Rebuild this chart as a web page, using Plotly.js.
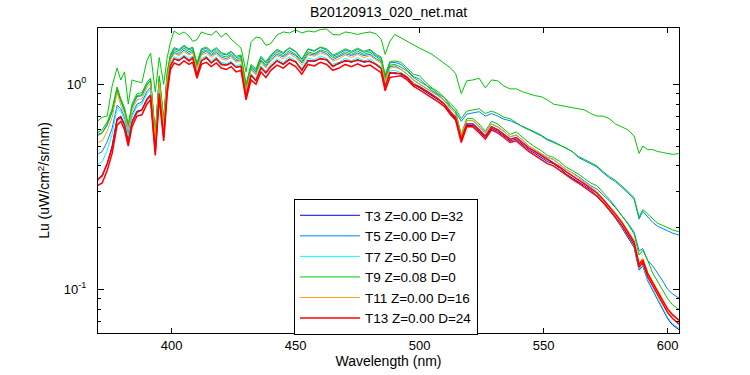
<!DOCTYPE html>
<html>
<head>
<meta charset="utf-8">
<script src="https://cdn.plot.ly/plotly-3.0.1.min.js"></script>
<style>html,body{margin:0;padding:0;background:#fff}#chart{width:750px;height:375px}</style>
</head>
<body>
<div id="chart"></div>
<script>
// Wavelength grid (nm)
const wavelength = [370,372,374,376,378,379.5,381,382.5,384,386,388,390,391.5,393.4,395,396.8,398.2,
399.5,401,403,405,407,408.5,410.2,412,414,416,418,420,422,424,426,428,430,432,434,436,438,440,442.5,445,447.5,450,452.5,455,457.5,460,462.5,465,467.5,470,472.5,475,477.5,480,482.5,484.5,486.1,488,490,
492.5,495,497.5,500,502.5,505,507.5,510,512.5,514.5,516.8,519,521.5,524,526.5,529,531.5,534,536.5,539,541.5,544,546.5,549,551.5,554,556.5,559,561.5,564,566.5,569,571.5,574,576.5,579,581.5,584,586.5,588.5,590,592,594,596,598,600,602,605];

// T3 Z=0.00 D=32
const t3 = [0.345,0.355,0.41,0.5,0.68,0.70,0.64,0.53,0.66,0.74,0.75,0.85,0.89,0.47,0.91,0.56,0.95,
1.24,1.33,1.3,1.37,1.31,1.34,1.12,1.31,1.34,1.28,1.33,1.26,1.24,1.28,1.21,1.23,0.88,1.1,1.05,1.21,1.13,1.23,1.3,1.26,1.33,1.28,1.18,1.31,1.29,1.34,1.31,1.23,1.26,1.31,1.28,1.32,1.28,1.3,1.24,1.2,0.98,1.13,1.14,
1.12,1.07,1.0,0.96,0.92,0.88,0.84,0.8,0.72,0.68,0.53,0.63,0.63,0.59,0.55,0.61,0.59,0.56,0.53,0.54,0.51,0.48,0.46,0.44,0.42,0.41,0.39,0.365,0.35,0.335,0.32,0.305,0.285,0.264,0.243,0.222,0.2,0.18,0.16,0.124,0.13,0.11,0.099,0.089,0.08,0.072,0.067,0.063];

// T5 Z=0.00 D=7 (two casts)
const t5a = [0.455,0.47,0.525,0.61,0.79,0.76,0.69,0.575,0.71,0.8,0.82,0.92,0.97,0.52,0.99,0.61,1.03,
1.33,1.43,1.4,1.47,1.41,1.45,1.21,1.41,1.45,1.38,1.43,1.36,1.33,1.38,1.3,1.32,0.95,1.19,1.13,1.3,1.22,1.32,1.4,1.36,1.43,1.38,1.27,1.41,1.39,1.45,1.41,1.32,1.36,1.41,1.38,1.42,1.38,1.4,1.33,1.29,1.05,1.22,1.23,
1.18,1.12,1.05,1.0,0.96,0.92,0.88,0.835,0.76,0.72,0.56,0.665,0.665,0.62,0.58,0.64,0.62,0.59,0.555,0.565,0.535,0.5,0.48,0.46,0.44,0.43,0.405,0.385,0.37,0.355,0.337,0.32,0.308,0.289,0.27,0.25,0.23,0.21,0.19,0.154,0.158,0.138,0.13,0.12,0.11,0.1,0.095,0.09];
const t5b = [0.56,0.58,0.63,0.73,0.93,0.82,0.74,0.62,0.77,0.87,0.88,0.99,1.04,0.56,1.07,0.66,1.12,
1.38,1.49,1.46,1.53,1.47,1.5,1.25,1.47,1.5,1.43,1.49,1.41,1.39,1.43,1.35,1.37,0.99,1.23,1.17,1.35,1.27,1.37,1.46,1.41,1.5,1.44,1.32,1.48,1.45,1.51,1.47,1.37,1.41,1.47,1.43,1.48,1.43,1.46,1.38,1.34,1.09,1.27,1.28,
1.25,1.17,1.09,1.06,0.99,0.93,0.89,0.83,0.775,0.735,0.66,0.715,0.725,0.735,0.70,0.72,0.70,0.675,0.665,0.645,0.62,0.605,0.585,0.565,0.54,0.525,0.505,0.49,0.47,0.44,0.425,0.41,0.395,0.37,0.35,0.335,0.315,0.295,0.275,0.22,0.24,0.225,0.212,0.203,0.197,0.193,0.188,0.183];

// T7 Z=0.50 D=0
const t7 = [0.405,0.42,0.475,0.57,0.77,0.74,0.67,0.56,0.69,0.78,0.8,0.9,0.94,0.5,0.96,0.59,1.0,
1.26,1.36,1.33,1.39,1.34,1.37,1.14,1.34,1.37,1.3,1.36,1.28,1.26,1.3,1.23,1.25,0.9,1.12,1.07,1.23,1.16,1.25,1.33,1.28,1.36,1.3,1.2,1.34,1.32,1.37,1.34,1.25,1.28,1.34,1.3,1.35,1.3,1.33,1.26,1.22,1.0,1.16,1.17,
1.14,1.09,1.02,0.98,0.94,0.9,0.85,0.81,0.74,0.7,0.54,0.645,0.645,0.6,0.56,0.625,0.6,0.57,0.54,0.55,0.52,0.49,0.47,0.445,0.425,0.415,0.395,0.375,0.36,0.34,0.325,0.31,0.29,0.268,0.246,0.224,0.203,0.182,0.162,0.125,0.131,0.111,0.1,0.09,0.081,0.073,0.068,0.064];

// T9 Z=0.08 D=0 (three casts)
const t9a = [0.66,0.69,0.7,0.98,1.2,1.05,1.15,0.8,1.05,1.03,1.02,1.3,1.42,0.92,1.35,1.0,1.35,
1.6,1.82,1.75,1.8,1.72,1.62,1.65,1.8,1.76,1.74,1.82,1.7,1.78,1.66,1.58,1.5,1.15,1.6,1.7,1.68,1.55,1.58,1.74,1.8,1.78,1.84,1.78,1.82,1.8,1.85,1.86,1.75,1.74,1.8,1.78,1.75,1.78,1.8,1.76,1.66,1.4,1.62,1.75,
1.68,1.62,1.55,1.5,1.45,1.4,1.33,1.26,1.2,1.13,0.9,1.04,1.05,1.07,0.96,1.05,1.04,0.98,0.95,0.95,0.92,0.9,0.88,0.87,0.84,0.8,0.79,0.78,0.77,0.76,0.75,0.72,0.7,0.7,0.68,0.64,0.62,0.6,0.56,0.46,0.5,0.48,0.48,0.47,0.465,0.46,0.455,0.46];
const t9b = [0.58,0.6,0.655,0.76,0.97,0.85,0.77,0.64,0.8,0.9,0.91,1.02,1.07,0.58,1.1,0.68,1.15,
1.4,1.51,1.48,1.55,1.49,1.52,1.27,1.49,1.52,1.45,1.51,1.43,1.4,1.45,1.37,1.39,1.0,1.25,1.19,1.37,1.29,1.39,1.48,1.43,1.51,1.45,1.33,1.49,1.46,1.52,1.49,1.39,1.43,1.49,1.45,1.5,1.45,1.48,1.4,1.36,1.11,1.29,1.3,
1.28,1.2,1.12,1.1,1.02,0.96,0.92,0.86,0.8,0.76,0.68,0.74,0.75,0.76,0.72,0.74,0.72,0.69,0.68,0.65,0.62,0.6,0.58,0.56,0.535,0.52,0.505,0.49,0.47,0.445,0.43,0.415,0.4,0.375,0.355,0.34,0.32,0.3,0.28,0.225,0.245,0.232,0.22,0.21,0.205,0.2,0.195,0.19];
const t9c = [0.57,0.58,0.64,0.74,0.95,0.83,0.75,0.63,0.78,0.88,0.89,1.0,1.05,0.56,1.08,0.66,1.12,
1.36,1.46,1.43,1.5,1.44,1.47,1.23,1.44,1.47,1.4,1.46,1.38,1.36,1.4,1.32,1.35,0.97,1.21,1.15,1.32,1.24,1.35,1.43,1.38,1.46,1.4,1.29,1.44,1.41,1.47,1.44,1.35,1.38,1.44,1.4,1.45,1.4,1.43,1.36,1.31,1.07,1.24,1.25,
1.21,1.16,1.08,1.03,0.99,0.95,0.9,0.86,0.78,0.74,0.57,0.68,0.68,0.64,0.59,0.66,0.64,0.605,0.57,0.585,0.55,0.52,0.495,0.475,0.45,0.44,0.42,0.395,0.38,0.365,0.347,0.33,0.32,0.297,0.275,0.252,0.23,0.208,0.186,0.147,0.155,0.138,0.12,0.109,0.099,0.09,0.084,0.079];

// T11 Z=0.00 D=16
const t11 = [0.52,0.53,0.59,0.69,0.91,0.79,0.72,0.6,0.74,0.84,0.85,0.96,1.01,0.54,1.03,0.64,1.08,
1.31,1.41,1.38,1.44,1.39,1.42,1.19,1.39,1.42,1.35,1.41,1.33,1.31,1.35,1.28,1.3,0.93,1.17,1.11,1.28,1.2,1.3,1.38,1.33,1.41,1.35,1.24,1.39,1.37,1.42,1.39,1.3,1.33,1.39,1.35,1.4,1.35,1.38,1.31,1.27,1.03,1.2,1.21,
1.18,1.12,1.05,1.0,0.96,0.92,0.88,0.835,0.76,0.72,0.56,0.665,0.665,0.62,0.58,0.64,0.62,0.59,0.555,0.565,0.535,0.5,0.48,0.46,0.44,0.43,0.405,0.385,0.37,0.35,0.33,0.315,0.3,0.278,0.257,0.236,0.215,0.194,0.173,0.134,0.142,0.121,0.109,0.099,0.089,0.081,0.076,0.07];

// T13 Z=0.00 D=24 (two casts)
const t13b = [0.34,0.36,0.41,0.49,0.67,0.69,0.63,0.52,0.65,0.73,0.75,0.84,0.88,0.47,0.9,0.55,0.94,
1.23,1.33,1.31,1.36,1.3,1.35,1.11,1.3,1.35,1.27,1.33,1.25,1.24,1.27,1.21,1.22,0.87,1.11,1.04,1.2,1.14,1.22,1.3,1.25,1.32,1.29,1.17,1.3,1.3,1.33,1.32,1.22,1.27,1.3,1.29,1.31,1.29,1.29,1.25,1.19,0.97,1.14,1.13,
1.13,1.08,1.0,0.97,0.93,0.89,0.85,0.8,0.73,0.69,0.54,0.64,0.64,0.6,0.56,0.62,0.6,0.57,0.54,0.55,0.52,0.49,0.47,0.45,0.43,0.415,0.395,0.375,0.357,0.342,0.327,0.311,0.295,0.274,0.253,0.232,0.212,0.191,0.17,0.132,0.139,0.119,0.107,0.097,0.088,0.08,0.075,0.07];
const t13 = [0.32,0.33,0.38,0.46,0.63,0.66,0.6,0.5,0.62,0.7,0.71,0.8,0.84,0.45,0.86,0.53,0.9,
1.18,1.27,1.24,1.3,1.25,1.28,1.07,1.25,1.28,1.22,1.27,1.2,1.18,1.22,1.15,1.17,0.84,1.05,1.0,1.15,1.08,1.17,1.24,1.2,1.27,1.22,1.12,1.25,1.23,1.28,1.25,1.17,1.2,1.25,1.22,1.26,1.22,1.24,1.18,1.14,0.93,1.08,1.09,
1.1,1.05,0.98,0.94,0.9,0.86,0.82,0.78,0.71,0.67,0.52,0.62,0.62,0.58,0.54,0.6,0.58,0.55,0.52,0.53,0.5,0.47,0.45,0.43,0.41,0.4,0.38,0.36,0.345,0.33,0.315,0.3,0.285,0.265,0.245,0.225,0.205,0.185,0.165,0.128,0.135,0.115,0.104,0.094,0.085,0.077,0.072,0.067];

const legendLabels = ['T3 Z=0.00 D=32','T5 Z=0.00 D=7','T7 Z=0.50 D=0','T9 Z=0.08 D=0','T11 Z=0.00 D=16','T13 Z=0.00 D=24'];
const xTickVals = [400,450,500,550,600];
const yTickVals = [0.1,1];
const yTickText = ['10<sup>-1</sup>','10<sup>0</sup>'];
const yMinorVals = [0.07,0.08,0.09,0.2,0.3,0.4,0.5,0.6,0.7,0.8,0.9];

const colors = ['#0000ff','#0080ff','#00ffff','#00c800','#ff9f1a','#ff0000'];

// [series values, legend index, show in legend]
const lineSets = [
  [t3,0,true],
  [t5a,1,true],[t5b,1,false],
  [t7,2,true],
  [t9a,3,true],[t9b,3,false],[t9c,3,false],
  [t11,4,true],
  [t13,5,true],[t13b,5,false]
];

const traces = lineSets.map(([vals,idx,show]) => ({
  type:'scatter', mode:'lines', x:wavelength, y:vals,
  name:legendLabels[idx], legendgroup:'g'+idx, showlegend:show,
  line:{color:colors[idx], width:idx===5?1.5:1},
  hoverinfo:'skip'
}));

const font = 'Liberation Sans, Arial, Helvetica, sans-serif';
const layout = {
  width:750, height:375,
  margin:{l:98, r:71, t:28, b:42, pad:0},
  paper_bgcolor:'#ffffff', plot_bgcolor:'#ffffff',
  font:{family:font, size:13, color:'#000'},
  title:{text:'B20120913_020_net.mat', x:0.5, xref:'paper', xanchor:'center', y:0.968, yref:'container', yanchor:'middle', font:{family:font, size:14, color:'#000'}},
  xaxis:{
    range:[370.3,604.6], tickvals:xTickVals, ticks:'inside', ticklen:5, tickwidth:1, tickcolor:'#000',
    showline:true, linecolor:'#000', linewidth:1, mirror:'ticks', showgrid:false, zeroline:false,
    tickfont:{family:font, size:13, color:'#000'},
    title:{text:'Wavelength (nm)', font:{family:font, size:14, color:'#000'}, standoff:4}
  },
  yaxis:{
    type:'log', range:[-1.2132,0.2746], tickvals:yTickVals, ticktext:yTickText,
    ticks:'inside', ticklen:6, tickwidth:1, tickcolor:'#000',
    minor:{tickvals:yMinorVals, ticks:'inside', ticklen:3, tickcolor:'#000', showgrid:false},
    showline:true, linecolor:'#000', linewidth:1, mirror:'ticks', showgrid:false, zeroline:false,
    tickfont:{family:font, size:13, color:'#000'}, ticklabelstandoff:8,
    title:{text:'Lu (uW/cm<sup>2</sup>/sr/nm)', font:{family:font, size:14, color:'#000'}, standoff:10}
  },
  showlegend:true,
  legend:{x:0.3373, y:0.4393, xanchor:'left', yanchor:'top', bgcolor:'#ffffff', bordercolor:'#000', borderwidth:1,
    font:{family:font, size:13.5, color:'#000'}, tracegroupgap:0, itemwidth:60, traceorder:'normal'}
};

Plotly.newPlot('chart', traces, layout, {displayModeBar:false});
</script>
</body>
</html>
